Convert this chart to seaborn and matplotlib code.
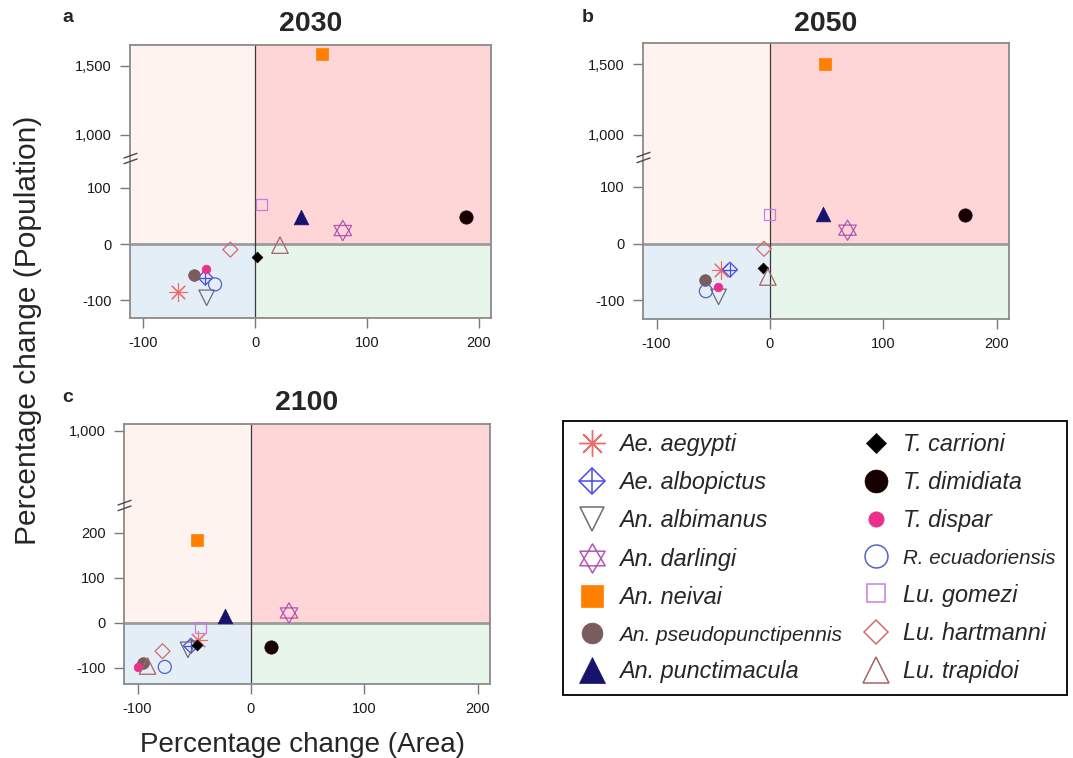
import numpy as np
import pandas as pd
import matplotlib
matplotlib.use("Agg")
import matplotlib.pyplot as plt
import matplotlib.transforms as mtransforms
from matplotlib.lines import Line2D
from matplotlib.path import Path
from matplotlib.legend_handler import HandlerTuple
import seaborn as sns

# ---------------------------------------------------------------- data
species = [
    "Ae. aegypti", "Ae. albopictus", "An. albimanus", "An. darlingi",
    "An. neivai", "An. pseudopunctipennis", "An. punctimacula",
    "T. carrioni", "T. dimidiata", "T. dispar", "R. ecuadoriensis",
    "Lu. gomezi", "Lu. hartmanni", "Lu. trapidoi",
]

# percentage change in suitable area (x) and in exposed population (y)
area_2030 = [-69.5, -44.6, -43.4, 78.4, 60.2, -54.8, 41.0, 1.5, 188.9, -43.7, -35.9, 5.7, -22.2, 22.2]
pop_2030 = [-85, -60, -96, 24, 1585, -55, 48, -23, 48, -45, -72, 71, -10, -2]

area_2050 = [-43.0, -35.3, -45.3, 68.5, 48.8, -57.6, 47.0, -6.2, 171.8, -46.2, -56.5, -0.3, -5.3, -1.8]
pop_2050 = [-46, -46, -94, 23.5, 1500, -63.5, 52, -43, 50, -76.5, -84, 51, -9.4, -59]

area_2100 = [-46.6, -53.0, -55.5, 33.6, -47.2, -95.3, -22.7, -47.2, 17.4, -100.0, -76.0, -44.2, -78.0, -91.2]
pop_2100 = [-39, -51, -60, 22, 184, -89, 16, -50, -53, -99, -98, -10, -63, -96]

years = ["2030", "2050", "2100"]
panel_letters = ["a", "b", "c"]

x_ticks = [-100, 0, 100, 200]
x_ticklabels = ["-100", "0", "100", "200"]
y_ticks_ab = [-100, 0, 100, 1000, 1500]
y_ticklabels_ab = ["-100", "0", "100", "1,000", "1,500"]
y_ticks_c = [-100, 0, 100, 200, 1000]
y_ticklabels_c = ["-100", "0", "100", "200", "1,000"]

frames = []
for yr, a, p in zip(years, [area_2030, area_2050, area_2100], [pop_2030, pop_2050, pop_2100]):
    frames.append(pd.DataFrame({"year": yr, "species": species, "area": a, "pop": p}))
df = pd.concat(frames, ignore_index=True)

# ---------------------------------------------------------------- styles
ASTER = (8, 2, 0)
# six-pointed star: two equilateral triangles sharing a centroid
_h = np.sqrt(3) / 2
HEXAGRAM = Path(
    [(0, 2 * _h / 3), (-0.5, -_h / 3), (0.5, -_h / 3), (0, 2 * _h / 3),
     (0, -2 * _h / 3), (-0.5, _h / 3), (0.5, _h / 3), (0, -2 * _h / 3)],
    [Path.MOVETO, Path.LINETO, Path.LINETO, Path.CLOSEPOLY,
     Path.MOVETO, Path.LINETO, Path.LINETO, Path.CLOSEPOLY],
)

# each glyph is one or more layers: (marker, size, kind, linewidth)
# kind: "line" = stroke-only marker, "open" = hollow, "solid" = filled
# the third entry holds the legend marker sizes for the same layers
STYLE = {
    "Ae. aegypti":            ("#F06A6A", [(ASTER, 170, "line", 0.8)], [19]),
    "Ae. albopictus":         ("#4A4AE8", [("D", 58, "open", 0.9), ("+", 116, "line", 0.9)], [13.5, 19]),
    "An. albimanus":          ("#6E6E6E", [("v", 125, "open", 0.9)], [17.5]),
    "An. darlingi":           ("#B457B4", [(HEXAGRAM, 215, "open", 0.9)], [21]),
    "An. neivai":             ("#FF7F00", [("s", 74, "solid", 0.5)], [15.5]),
    "An. pseudopunctipennis": ("#7A5C5C", [("o", 71, "solid", 0.5)], [15]),
    "An. punctimacula":       ("#17136A", [("^", 112, "solid", 0.5)], [19]),
    "T. carrioni":            ("#000000", [("D", 30, "solid", 0.5)], [10.5]),
    "T. dimidiata":           ("#160000", [("o", 92, "solid", 0.5)], [16.5]),
    "T. dispar":              ("#E8308C", [("o", 39, "solid", 0.5)], [11]),
    "R. ecuadoriensis":       ("#5563C1", [("o", 88, "open", 0.9)], [16.5]),
    "Lu. gomezi":             ("#C77DE0", [("s", 59, "open", 0.9)], [13]),
    "Lu. hartmanni":          ("#D46A6A", [("D", 58, "open", 0.9)], [12.5]),
    "Lu. trapidoi":           ("#A86464", [("^", 140, "open", 0.9)], [19]),
}

Q_TOP_LEFT = "#FFF3F0"
Q_TOP_RIGHT = "#FFD6D7"
Q_BOTTOM_LEFT = "#E4EEF7"
Q_BOTTOM_RIGHT = "#E7F5EB"
FRAME = "#8A8A8A"

sns.set_style("ticks")
plt.rcParams["font.family"] = ["Liberation Sans", "DejaVu Sans"]

W, H = 1073, 758
fig = plt.figure(figsize=(W / 100, H / 100), dpi=100)


def box(left, top, right, bottom):
    return [left / W, 1 - bottom / H, (right - left) / W, (bottom - top) / H]


def broken_scale(lo, t_hi, k):
    """Linear below `lo`, compressed above 1000, with a gap in between."""
    d = np.array([-1e5, lo, 1000.0, 1e5])
    t = np.array([-1e5, lo, t_hi, t_hi + (1e5 - 1000.0) * k])

    def fwd(v):
        return np.interp(np.asarray(v, dtype=float), d, t)

    def inv(v):
        return np.interp(np.asarray(v, dtype=float), t, d)

    return fwd, inv


PANELS = [
    dict(box=(130, 45, 491, 318), lo=100, t_hi=194.6, k=0.246, ylim=(-132, 1652),
         yticks=y_ticks_ab, ylabels=y_ticklabels_ab, brk=152.7, letter=(62, 17), pad=10),
    dict(box=(643, 43, 1009, 319), lo=100, t_hi=192.0, k=0.247, ylim=(-133, 1653),
         yticks=y_ticks_ab, ylabels=y_ticklabels_ab, brk=152.0, letter=(582, 17), pad=8.5),
    dict(box=(124, 424, 490, 684), lo=200, t_hi=427.0, k=0.25, ylim=(-136, 1062),
         yticks=y_ticks_c, ylabels=y_ticklabels_c, brk=262.0, letter=(62, 397), pad=10),
]

BREAK_MARK = Path([(-7, 0.35), (7, 5.35), (-7, -5.35), (7, -0.35)],
                  [Path.MOVETO, Path.LINETO, Path.MOVETO, Path.LINETO])

XLIM = (-112, 211)

for yr, letter, cfg in zip(years, panel_letters, PANELS):
    ax = fig.add_axes(box(*cfg["box"]))
    fwd, inv = broken_scale(cfg["lo"], cfg["t_hi"], cfg["k"])
    ax.set_yscale("function", functions=(fwd, inv))
    ax.set_xlim(*XLIM)
    ax.set_ylim(*cfg["ylim"])

    # quadrant shading
    f0 = (0 - XLIM[0]) / (XLIM[1] - XLIM[0])
    ybot, ytop = cfg["ylim"]
    ax.axhspan(0, ytop, xmin=0, xmax=f0, color=Q_TOP_LEFT, lw=0, zorder=0)
    ax.axhspan(0, ytop, xmin=f0, xmax=1, color=Q_TOP_RIGHT, lw=0, zorder=0)
    ax.axhspan(ybot, 0, xmin=0, xmax=f0, color=Q_BOTTOM_LEFT, lw=0, zorder=0)
    ax.axhspan(ybot, 0, xmin=f0, xmax=1, color=Q_BOTTOM_RIGHT, lw=0, zorder=0)
    ax.axhline(0, color="#9C9C9C", lw=2.0, zorder=1)
    ax.axvline(0, color="#3A3A3A", lw=0.9, zorder=1)

    sub = df[df["year"] == yr]
    for sp in species:
        color, layers, _ = STYLE[sp]
        row = sub[sub["species"] == sp]
        for marker, s, kind, lw in layers:
            kws = dict(data=row, x="area", y="pop", marker=marker, s=s, ax=ax,
                       legend=False, zorder=5, linewidth=lw)
            if kind == "line":
                kws.update(color=color)
            elif kind == "open":
                kws.update(color=color, facecolor="none", edgecolor=color)
            else:
                kws.update(color=color, edgecolor=color)
            sns.scatterplot(**kws)

    ax.set_xlim(*XLIM)
    ax.set_ylim(*cfg["ylim"])
    ax.set_xticks(x_ticks)
    ax.set_xticklabels(x_ticklabels)
    ax.set_yticks(cfg["yticks"])
    ax.set_yticklabels(cfg["ylabels"])
    ax.minorticks_off()
    ax.set_xlabel("")
    ax.set_ylabel("")
    ax.tick_params(axis="both", direction="out", length=7, width=1.0, color="#7A7A7A",
                   labelsize=10.5, labelcolor="#1A1A1A", pad=6)
    for side in ["left", "right", "top", "bottom"]:
        ax.spines[side].set_visible(True)
        ax.spines[side].set_color(FRAME)
        ax.spines[side].set_linewidth(1.3)
        ax.spines[side].set_zorder(6)

    # axis break mark on the left spine
    trans = mtransforms.blended_transform_factory(ax.transAxes, ax.transData)
    ax.plot([0], [float(inv(cfg["brk"]))], marker=BREAK_MARK, ms=10, color="#4A4A4A",
            mfc="none", mew=1.0, transform=trans, clip_on=False, zorder=10, ls="none")

    ax.set_title(yr, fontsize=20.5, fontweight="bold", pad=cfg["pad"])
    lx, ly = cfg["letter"]
    fig.text(lx / W, 1 - ly / H, letter, fontsize=14, fontweight="bold",
             ha="left", va="center")

fig.text(28 / W, 1 - 330 / H, "Percentage change (Population)", rotation=90,
         fontsize=21.5, ha="center", va="center")
fig.text(303 / W, 1 - 745 / H, "Percentage change (Area)", fontsize=20,
         ha="center", va="center")

# ---------------------------------------------------------------- legend
handles = []
for sp in species:
    color, layers, leg_sizes = STYLE[sp]
    parts = []
    for (marker, _, kind, lw), ms in zip(layers, leg_sizes):
        if kind == "line":
            h = Line2D([], [], ls="none", marker=marker, ms=ms, mec=color, mew=lw + 0.2)
        elif kind == "open":
            h = Line2D([], [], ls="none", marker=marker, ms=ms, mfc="none", mec=color, mew=1.1)
        else:
            h = Line2D([], [], ls="none", marker=marker, ms=ms, mfc=color, mec=color, mew=0.5)
        parts.append(h)
    handles.append(tuple(parts) if len(parts) > 1 else parts[0])

leg = fig.legend(handles, species, ncol=2, loc="upper left",
                 bbox_to_anchor=(563 / W, 1 - 421 / H), borderaxespad=0,
                 prop={"style": "italic", "size": 16.8, "family": "Liberation Sans"},
                 handler_map={tuple: HandlerTuple(ndivide=1, pad=0)},
                 frameon=True, fancybox=False, edgecolor="#111111", framealpha=1,
                 handlelength=1.5, handletextpad=0.4, labelspacing=0.66,
                 columnspacing=0.72, borderpad=0.5)
leg.get_frame().set_linewidth(1.4)
leg.get_texts()[5].set_fontsize(15)
leg.get_texts()[10].set_fontsize(14.8)

fig.savefig("out.png", dpi=100)
